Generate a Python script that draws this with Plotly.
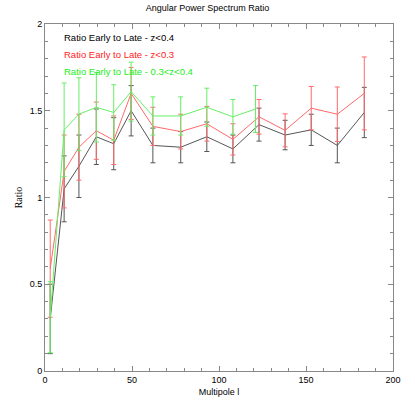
import plotly.graph_objects as go

# ====== data ======
ell = [3, 11, 19.5, 29.5, 39.5, 49.5, 62, 78, 93, 108, 123, 138, 153, 168, 183.5]
ell_green = [3, 11, 19.5, 29.5, 39.5, 49.5, 62, 78, 93, 108, 121]

ratio_z04 = [0.30, 1.05, 1.18, 1.35, 1.31, 1.50, 1.30, 1.29, 1.35, 1.28, 1.42, 1.36, 1.39, 1.30, 1.49]
err_z04 = [0.20, 0.19, 0.18, 0.16, 0.15, 0.145, 0.10, 0.09, 0.085, 0.08, 0.095, 0.085, 0.09, 0.10, 0.145]

ratio_z03 = [0.59, 1.15, 1.29, 1.385, 1.33, 1.60, 1.41, 1.38, 1.425, 1.335, 1.465, 1.387, 1.515, 1.48, 1.60]
err_z03 = [0.28, 0.21, 0.19, 0.165, 0.14, 0.15, 0.11, 0.10, 0.10, 0.09, 0.10, 0.095, 0.125, 0.157, 0.21]

ratio_mid = [0.31, 1.39, 1.48, 1.52, 1.49, 1.61, 1.47, 1.47, 1.52, 1.465, 1.51]
err_mid = [0.205, 0.27, 0.21, 0.20, 0.16, 0.17, 0.11, 0.11, 0.11, 0.10, 0.135]

labels = ["Ratio Early to Late - z<0.4", "Ratio Early to Late - z<0.3",
          "Ratio Early to Late - 0.3<z<0.4"]
line_colors = ["#555555", "#ff6a6a", "#66ee66"]
text_colors = ["#000000", "#ff2222", "#22ee22"]

SANS = "Liberation Sans, Arial"

fig = go.Figure()
for xs, ys, es, name, c in zip([ell, ell, ell_green],
                               [ratio_z04, ratio_z03, ratio_mid],
                               [err_z04, err_z03, err_mid],
                               labels, line_colors):
    fig.add_trace(go.Scatter(
        x=xs, y=ys, name=name, mode="lines",
        line=dict(color=c, width=1),
        error_y=dict(type="data", array=es, visible=True, color=c,
                     thickness=1, width=2.5),
        showlegend=False,
    ))

# legend as coloured text
for i, (lab, tc) in enumerate(zip(labels, text_colors)):
    fig.add_annotation(
        xref="paper", yref="paper", x=0.048, y=0.9625 - i * 0.05,
        text=lab, showarrow=False, xanchor="left", yanchor="middle",
        font=dict(family=SANS, size=9.5, color=tc),
    )

axis_common = dict(
    showgrid=False, zeroline=False, showline=True, linecolor="#888888",
    linewidth=1, mirror="ticks", ticks="inside", ticklen=5, tickcolor="#888888",
    tickfont=dict(family=SANS, size=9, color="#000000"),
    automargin=False,
)

fig.update_xaxes(
    range=[0, 200], dtick=50, **axis_common,
    minor=dict(dtick=10, ticks="inside", ticklen=3, tickcolor="#888888"),
    title=dict(text="Multipole l", standoff=4,
               font=dict(family=SANS, size=9, color="#000000")),
)
fig.update_yaxes(
    range=[0, 2], dtick=0.5, **axis_common,
    minor=dict(dtick=0.1, ticks="inside", ticklen=3, tickcolor="#888888"),
    title=dict(text="Ratio", standoff=5,
               font=dict(family="Liberation Serif, Times New Roman", size=10, color="#000000")),
)

fig.update_layout(
    width=415, height=415,
    margin=dict(l=45, r=22, t=24, b=44),
    paper_bgcolor="white", plot_bgcolor="white",
    title=dict(text="Angular Power Spectrum Ratio", x=0.5, xanchor="center",
               y=0.982, yanchor="middle",
               font=dict(family=SANS, size=9, color="#000000")),
)

# page body margin off so the figure sits at the window origin
fig.write_html("out.html", config={"displayModeBar": False},
               post_script="document.body.style.margin='0';")
